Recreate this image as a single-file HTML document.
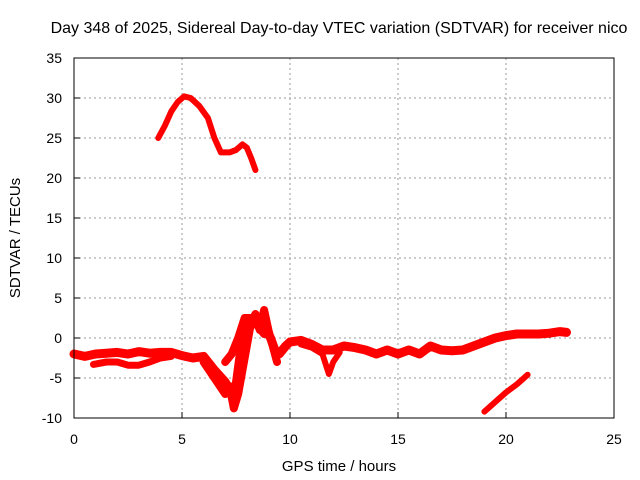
<!DOCTYPE html>
<html><head><meta charset="utf-8"><style>
body{margin:0;background:#fff;}
svg{display:block;font-family:"Liberation Sans",sans-serif;}
</style></head><body>
<svg id="chart" width="640" height="480" viewBox="0 0 640 480" xmlns="http://www.w3.org/2000/svg">
<rect width="640" height="480" fill="#fff"/>
<g id="grid"></g>
<g id="series"></g>
<rect x="74" y="58" width="540" height="360" fill="none" stroke="#000" stroke-width="1"/>
<g id="ticks" font-size="14" fill="#000"></g>
<text x="339" y="33" text-anchor="middle" font-size="16">Day 348 of 2025, Sidereal Day-to-day VTEC variation (SDTVAR) for receiver nico</text>
<text x="339" y="471" text-anchor="middle" font-size="15">GPS time / hours</text>
<text transform="translate(20,238) rotate(-90)" text-anchor="middle" font-size="15">SDTVAR / TECUs</text>
</svg>
<script>
const xTicks=[0,5,10,15,20,25];
const yTicks=[-10,-5,0,5,10,15,20,25,30,35];
const arcUpper=[[3.9,25],[4.2,26.5],[4.5,28.3],[4.8,29.5],[5.1,30.2],[5.4,30],[5.8,29],[6.2,27.5],[6.5,25],[6.8,23.2],[7.2,23.2],[7.5,23.5],[7.8,24.2],[8.0,23.8],[8.2,22.5],[8.4,21]];
const lateLine=[[19,-9.2],[19.5,-8],[20,-6.8],[20.5,-5.8],[21,-4.6]];
const mainSeries=[[0,-2],[0.5,-2.3],[1,-2],[1.5,-1.9],[2,-1.8],[2.5,-2],[3,-1.7],[3.5,-1.9],[4,-1.8],[4.5,-1.8],[5,-2.2],[5.5,-2.5],[6,-2.3],[6.5,-4],[7,-5.5],[7.3,-7],[7.5,-6],[7.7,-2],[7.9,0],[8.1,1.5],[8.3,2],[8.6,1.5],[8.9,1],[9.1,0],[9.3,-1.5],[9.5,-2],[9.8,-1],[10,-0.5],[10.5,-0.3],[11,-0.8],[11.5,-1.5],[12,-1.5],[12.5,-1],[13,-1.2],[13.5,-1.5],[14,-2],[14.5,-1.5],[15,-2],[15.5,-1.5],[16,-2],[16.5,-1],[17,-1.5],[17.5,-1.6],[18,-1.5],[18.5,-1],[19,-0.5],[19.5,0],[20,0.3],[20.5,0.5],[21,0.5],[21.5,0.5],[22,0.6],[22.5,0.8],[22.8,0.7]];
const branchA=[[0.9,-3.3],[1.5,-3],[2,-3],[2.5,-3.4],[3,-3.4],[3.5,-3],[4,-2.5],[4.5,-2.3]];
const branchB=[[6,-3],[6.5,-5],[7,-7],[7.2,-6],[7.4,-8.8],[7.6,-7],[7.8,-4],[8,-1],[8.2,2],[8.4,3],[8.6,1],[8.8,3.5],[9,1],[9.2,-1],[9.4,-3]];
const branchC=[[7,-3],[7.3,-2],[7.6,0],[7.9,2.5],[8.2,2.5],[8.5,1.5],[8.8,0.5]];
const branchD=[[10.5,-0.8],[11,-1.2],[11.5,-2],[11.8,-4.5],[12,-3],[12.3,-1.8]];
const X=v=>74+v*21.6, Y=v=>338-v*8;
const NS='http://www.w3.org/2000/svg';
const grid=document.getElementById('grid'),ticks=document.getElementById('ticks'),ser=document.getElementById('series');
function mk(t,a,p){const e=document.createElementNS(NS,t);for(const k in a)e.setAttribute(k,a[k]);p.appendChild(e);return e;}
xTicks.forEach(v=>{
 if(v>0&&v<25){const l=mk('line',{x1:X(v),x2:X(v),y1:58,y2:418,stroke:'#999','stroke-dasharray':'2,3'},grid);
 
 }
 const t=mk('line',{x1:X(v),x2:X(v),y1:418,y2:412,stroke:'#000'},ticks);
 
 
 const tx=mk('text',{x:X(v),y:444,'text-anchor':'middle'},ticks);tx.textContent=v;
 
 
});
yTicks.forEach(v=>{
 if(v>-10&&v<35){const l=mk('line',{x1:74,x2:614,y1:Y(v),y2:Y(v),stroke:'#999','stroke-dasharray':'2,3'},grid);
 
 }
 const t=mk('line',{x1:74,x2:80,y1:Y(v),y2:Y(v),stroke:'#000'},ticks);
 
 
 const tx=mk('text',{x:62,y:Y(v)+5,'text-anchor':'end'},ticks);tx.textContent=v;
 
 
});
function draw(d,name,w){const p=mk('polyline',{points:d.map(q=>X(q[0])+','+Y(q[1])).join(' '),fill:'none',stroke:'#f00','stroke-width':w,'stroke-linejoin':'round','stroke-linecap':'round'},ser);
 
 }
draw(arcUpper,'series-upper-arc',6);
draw(lateLine,'series-late-line',6);
draw(mainSeries,'series-main',9);
draw(branchA,'series-branch-a',7);
draw(branchB,'series-branch-b',8);
draw(branchC,'series-branch-c',8);
draw(branchD,'series-branch-d',6);
</script>
</body></html>
